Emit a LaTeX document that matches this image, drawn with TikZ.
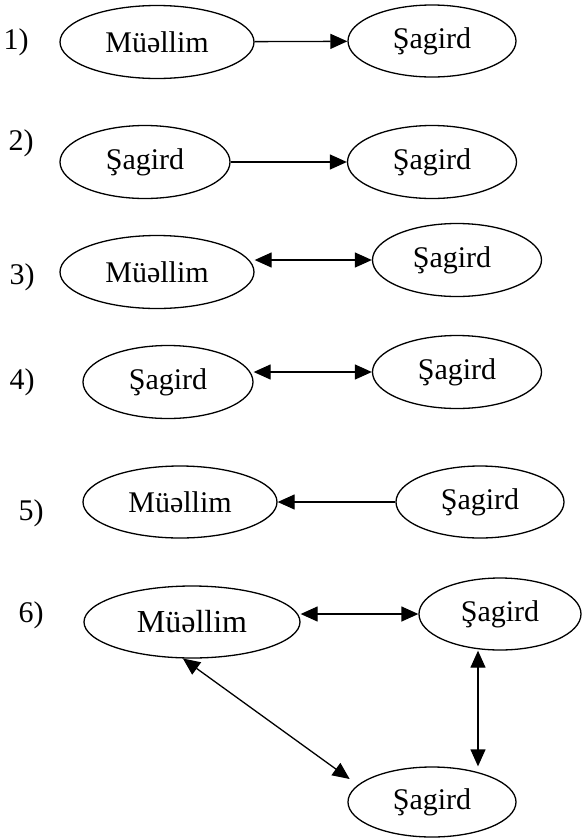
\documentclass[tikz,border=0pt]{standalone}
\usepackage{fontspec}
\setmainfont{Liberation Serif}
\usetikzlibrary{shapes.geometric,arrows.meta}
\begin{document}
\begin{tikzpicture}[x=1pt,y=-1pt,
  ell/.style={draw,ellipse,line width=1.3pt,inner sep=0pt,font=\fontsize{30}{35}\selectfont},
  lbl/.style={inner sep=0pt,font=\fontsize{30}{35}\selectfont},
  con/.style={line width=1.3pt,arrows={-Triangle[length=17pt,width=15pt]}},
  bi/.style={line width=1.3pt,arrows={Triangle[length=17pt,width=15pt]-Triangle[length=17pt,width=15pt]}}]
\useasboundingbox (0,0) rectangle (582,839);
% labels
\node[lbl] (l1) at (16,42) {1)};
\node[lbl] (l2) at (21,143) {2)};
\node[lbl] (l3) at (22,277) {3)};
\node[lbl] (l4) at (22,382) {4)};
\node[lbl] (l5) at (31,513) {5)};
\node[lbl] (l6) at (31,615) {6)};
% row 1
\node[ell,minimum width=194pt,minimum height=73pt] (m1) at (157,42) {Müəllim};
\node[ell,minimum width=168pt,minimum height=72pt] (s1) at (432,41) {Şagird};
% row 2
\node[ell,minimum width=170pt,minimum height=73pt] (s2a) at (145,162) {Şagird};
\node[ell,minimum width=169pt,minimum height=73pt] (s2b) at (432,162) {Şagird};
% row 3
\node[ell,minimum width=194pt,minimum height=73pt] (m3) at (157,272) {Müəllim};
\node[ell,minimum width=169pt,minimum height=73pt] (s3) at (457,260) {\hspace*{-10pt}Şagird};
% row 4
\node[ell,minimum width=170pt,minimum height=73pt] (s4a) at (168,382) {Şagird};
\node[ell,minimum width=169pt,minimum height=73pt] (s4b) at (457,372) {Şagird};
% row 5
\node[ell,minimum width=194pt,minimum height=72pt] (m5) at (180,502) {Müəllim};
\node[ell,minimum width=168pt,minimum height=72pt] (s5) at (480,502) {Şagird};
% row 6
\node[ell,minimum width=216pt,minimum height=72pt,font=\fontsize{32}{37}\selectfont] (m6) at (192,622) {Müəllim};
\node[ell,minimum width=162pt,minimum height=72pt] (s6a) at (500,614) {Şagird};
\node[ell,minimum width=168pt,minimum height=70pt] (s6b) at (432,802) {Şagird};
% connectors
\draw[con] (m1) -- (s1);
\draw[con] (s2a) -- (s2b);
\draw[bi] (m3.east |- s3.west) -- (s3.west);
\draw[bi] (s4a.east |- s4b.west) -- (s4b.west);
\draw[con] (s5) -- (m5);
\draw[bi] (m6.east |- s6a.west) -- (s6a.west);
\draw[bi] ([xshift=-22pt]s6a.south) -- ([xshift=-22pt]s6a.south |- s6b.north);
\draw[bi,shorten >=10pt] (m6.256) -- (s6b.167);
\end{tikzpicture}
\end{document}
